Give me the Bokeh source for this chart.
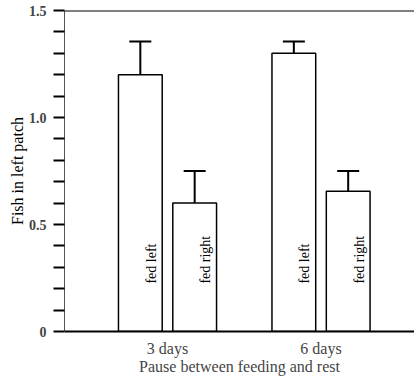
import math
from bokeh.plotting import figure
from bokeh.models import Range1d, FixedTicker, Span, Whisker, ColumnDataSource, Title
from bokeh.core.properties import value
from bokeh.embed import file_html
from bokeh.resources import INLINE

# ---- data ----
groups = ["3 days", "6 days"]
group_pos = [1, 2]
fed_left_mean = [1.2, 1.3]
fed_left_upper = [1.355, 1.355]
fed_right_mean = [0.6, 0.655]
fed_right_upper = [0.75, 0.75]
bar_labels = ["fed left", "fed right"]
y_ticks = [0, 0.5, 1.0, 1.5]
y_tick_labels = ["0", "0.5", "1.0", "1.5"]
y_minor = [0.1, 0.2, 0.3, 0.4, 0.6, 0.7, 0.8, 0.9, 1.1, 1.2, 1.3, 1.4]

FONT = "'Liberation Serif'"
off = 0.177
bw = 0.285

xs, tops, uppers, labels = [], [], [], []
for g, ml, ul, mr, ur in zip(group_pos, fed_left_mean, fed_left_upper, fed_right_mean, fed_right_upper):
    xs += [g - off, g + off]
    tops += [ml, mr]
    uppers += [ul, ur]
    labels += bar_labels
src = ColumnDataSource(dict(x=xs, top=tops, upper=uppers, label=labels,
                            ly=[0.224] * len(xs)))

p = figure(width=414, height=378, output_backend="svg", toolbar_location=None,
           x_range=Range1d(0.329, 2.609), y_range=Range1d(0, 1.5),
           min_border_left=64, min_border_right=0, min_border_top=10, min_border_bottom=47)
p.outline_line_color = None
p.xgrid.visible = False
p.ygrid.visible = False
p.background_fill_color = "white"

p.vbar(x="x", top="top", bottom=0, width=bw, source=src,
       fill_color="white", line_color="black", line_width=1.5)

w = Whisker(base="x", upper="upper", lower="top", source=src, dimension="height",
            line_color="black", line_width=2, lower_head=None)
w.upper_head.size = 22
w.upper_head.line_width = 2
w.upper_head.line_color = "black"
p.add_layout(w)

p.text(x="x", y="ly", text="label", source=src, angle=math.pi / 2,
       x_offset=11, text_align="left", text_baseline="middle",
       text_font=value(FONT), text_font_size="14px", text_color="black")

p.add_layout(Span(location=1.5, dimension="width", line_color="black", line_width=2))

# y axis
ya = p.yaxis[0]
ya.ticker = FixedTicker(ticks=y_ticks, minor_ticks=y_minor)
ya.major_label_overrides = {t: l for t, l in zip(y_ticks, y_tick_labels)}
ya.major_tick_out = 11
ya.major_tick_in = 0
ya.minor_tick_out = 11
ya.minor_tick_in = 0
ya.major_tick_line_width = 2
ya.minor_tick_line_width = 2
ya.axis_line_color = "#555555"
ya.axis_line_width = 1
ya.major_label_text_font = FONT
ya.major_label_text_font_style = "bold"
ya.major_label_text_font_size = "14px"
ya.major_label_standoff = 7

p.add_layout(Title(text="Fish in left patch", align="center", offset=17,
                   text_font=FONT, text_font_style="normal", text_font_size="16px",
                   text_color="black", standoff=0), "left")

# x axis
xa = p.xaxis[0]
xa.ticker = FixedTicker(ticks=group_pos)
xa.major_label_overrides = {g: n for g, n in zip(group_pos, groups)}
xa.major_tick_out = 0
xa.major_tick_in = 0
xa.minor_tick_out = 0
xa.minor_tick_in = 0
xa.axis_line_width = 2
xa.axis_line_color = "black"
xa.major_label_text_font = FONT
xa.major_label_text_font_size = "16px"
xa.major_label_standoff = 8
xa.axis_label = "Pause between feeding and rest"
xa.axis_label_text_font = FONT
xa.axis_label_text_font_style = "normal"
xa.axis_label_text_font_size = "16px"
xa.axis_label_standoff = -2

open("out.html", "w").write(file_html(p, INLINE))
